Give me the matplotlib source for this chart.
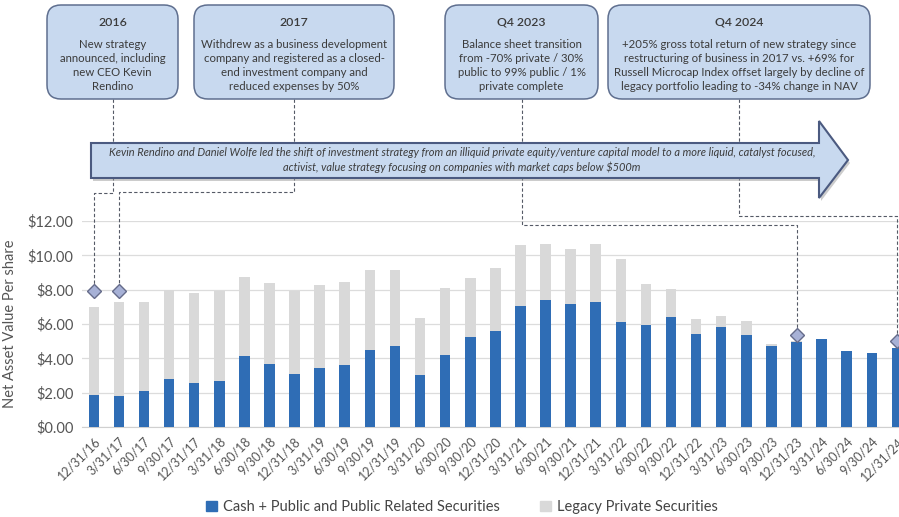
import numpy as np
import matplotlib
matplotlib.use("Agg")
from matplotlib import pyplot as plt
from matplotlib.patches import FancyBboxPatch, Polygon, Patch

plt.rcParams['font.family'] = ['Lato', 'DejaVu Sans']

dates = ['12/31/16', '3/31/17', '6/30/17', '9/30/17', '12/31/17', '3/31/18', '6/30/18',
         '9/30/18', '12/31/18', '3/31/19', '6/30/19', '9/30/19', '12/31/19', '3/31/20',
         '6/30/20', '9/30/20', '12/31/20', '3/31/21', '6/30/21', '9/30/21', '12/31/21',
         '3/31/22', '6/30/22', '9/30/22', '12/31/22', '3/31/23', '6/30/23', '9/30/23',
         '12/31/23', '3/31/24', '6/30/24', '9/30/24', '12/31/24']
public = [1.86, 1.79, 2.10, 2.78, 2.56, 2.66, 4.16, 3.69, 3.11, 3.46, 3.61, 4.49, 4.74, 3.05,
          4.21, 5.24, 5.59, 7.05, 7.40, 7.17, 7.30, 6.12, 5.96, 6.41, 5.40, 5.83, 5.38, 4.74,
          4.97, 5.11, 4.45, 4.33, 4.58]
total = [6.99, 7.26, 7.30, 8.00, 7.79, 7.90, 8.72, 8.41, 7.90, 8.25, 8.45, 9.13, 9.15, 6.33,
         8.08, 8.68, 9.26, 10.58, 10.68, 10.35, 10.66, 9.79, 8.33, 8.06, 6.29, 6.49, 6.19, 4.85,
         5.00, 5.11, 4.45, 4.33, 4.58]
private = [t - p for t, p in zip(total, public)]

yticks = [0, 2, 4, 6, 8, 10, 12]

# milestone callouts
events = ['2016', '2017', 'Q4 2023', 'Q4 2024']
event_text = [
    'New strategy\nannounced, including\nnew CEO Kevin\nRendino',
    'Withdrew as a business development\ncompany and registered as a closed-\nend investment company and\nreduced expenses by 50%',
    'Balance sheet transition\nfrom -70% private / 30%\npublic to 99% public / 1%\nprivate complete',
    '+205% gross total return of new strategy since\nrestructuring of business in 2017 vs. +69% for\nRussell Microcap Index offset largely by decline of\nlegacy portfolio leading to -34% change in NAV',
]
event_bar = [0, 1, 28, 32]
event_y = [7.92, 7.92, 5.36, 5.0]
arrow_text = ('Kevin Rendino and Daniel Wolfe led the shift of investment strategy from an illiquid '
              'private equity/venture capital model to a more liquid, catalyst focused,\n'
              'activist, value strategy focusing on companies with market caps below \\$500m')

BLUE = '#2f6db5'
GREY = '#d9d9d9'
BOX = '#c8d9ef'
EDGE = '#5f6f8f'
TXT = '#3b3b3b'

W, H = 899, 517
fig = plt.figure(figsize=(W / 100, H / 100), dpi=100)
ax = fig.add_axes([82 / W, (H - 427) / H, (W - 82) / W, 206 / H])

x = np.arange(len(dates))
ax.bar(x, public, width=0.42, color=BLUE, zorder=3)
ax.bar(x, private, width=0.42, bottom=public, color=GREY, zorder=3)
ax.set_xlim(-0.47, (W - 93.7) / 25.1)
ax.set_ylim(0, 12)
ax.set_yticks(yticks)
ax.set_yticklabels(['\\$%.2f' % v for v in yticks], fontsize=10.5, color='#555555')
ax.set_xticks(x)
ax.set_xticklabels(dates, rotation=45, ha='right', rotation_mode='anchor',
                   fontsize=9, color='#555555')
ax.tick_params(length=0, pad=6)
ax.grid(axis='y', color='#dcdcdc', lw=0.9, zorder=0)
for s in ['top', 'right', 'left']:
    ax.spines[s].set_visible(False)
ax.spines['bottom'].set_color('#d0d0d0')
ax.set_ylabel('Net Asset Value Per share', fontsize=10.5, color='#555555', labelpad=8)

ax.plot([x[i] for i in event_bar], event_y, ls='none', marker='D', ms=7,
        mfc='#a7b1d6', mec='#656b8a', mew=1, zorder=6, clip_on=False)

leg = fig.legend(handles=[Patch(color=BLUE, label='Cash + Public and Public Related Securities'),
                          Patch(color=GREY, label='Legacy Private Securities')],
                 loc='center', bbox_to_anchor=(462 / W, 10 / H), ncol=2, frameon=False,
                 fontsize=10.5, handlelength=0.75, handleheight=0.75, handletextpad=0.4,
                 columnspacing=2.8)
for t in leg.get_texts():
    t.set_color('#444444')

# overlay in pixel coordinates for callouts
ov = fig.add_axes([0, 0, 1, 1], zorder=5)
ov.set_xlim(0, W)
ov.set_ylim(H, 0)
ov.axis('off')
ov.patch.set_alpha(0)

boxes = [(47, 178), (194, 394), (445, 598), (608, 870)]
turn_y = [193, 192, 225, 216]
for (x0, x1), title, body, bi, ey, ty in zip(boxes, events, event_text, event_bar, event_y, turn_y):
    ov.add_patch(FancyBboxPatch((x0, 5), x1 - x0, 94,
                                boxstyle='round,pad=0,rounding_size=14',
                                fc=BOX, ec=EDGE, lw=1.1, zorder=3))
    cx = (x0 + x1) / 2
    ov.text(cx, 22, title, ha='center', va='center', fontsize=8.8, weight='semibold', color=TXT)
    ov.text(cx, 65.5, body, ha='center', va='center', fontsize=8.2, color=TXT, linespacing=1.3)
    # dashed connector to the diamond above the bar
    px, py = ax.transData.transform((bi, ey))
    dx, dy = ov.transData.inverted().transform((px, py))
    ov.plot([cx, cx, dx, dx], [99, ty, ty, dy - 7], ls=(0, (3, 2)), color='#555a66',
            lw=0.8, zorder=1, clip_on=False)

arrow = Polygon([(91, 143), (819, 143), (819, 121), (848, 160), (819, 198), (819, 178), (91, 178)],
                closed=True, fc=BOX, ec='#4b5a80', lw=1.5, zorder=4)
shadow = Polygon([(93, 146), (821, 146), (821, 124), (850, 163), (821, 201), (821, 181), (93, 181)],
                 closed=True, fc='#9a9a9a', ec='none', alpha=0.5, zorder=3.5)
ov.add_patch(shadow)
ov.add_patch(arrow)
ov.text(462, 160, arrow_text, ha='center', va='center', fontsize=7.95, style='italic',
        color=TXT, linespacing=1.4, zorder=5)

fig.savefig('out.png', dpi=100)
